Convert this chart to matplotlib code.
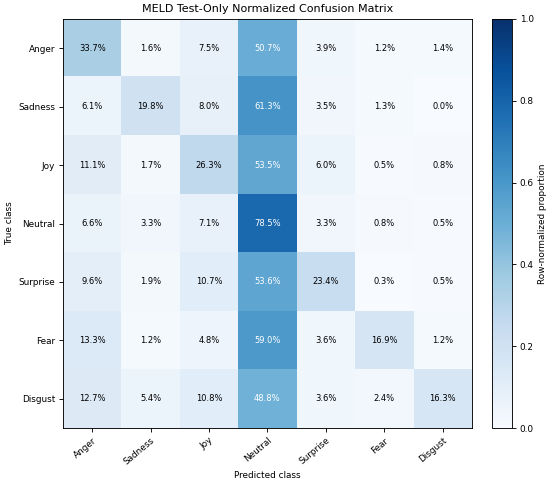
import numpy as np
import matplotlib.pyplot as plt

classes = ["Anger", "Sadness", "Joy", "Neutral", "Surprise", "Fear", "Disgust"]

# row-normalized values in percent, rows = true class
anger = [33.7, 1.6, 7.5, 50.7, 3.9, 1.2, 1.4]
sadness = [6.1, 19.8, 8.0, 61.3, 3.5, 1.3, 0.0]
joy = [11.1, 1.7, 26.3, 53.5, 6.0, 0.5, 0.8]
neutral = [6.6, 3.3, 7.1, 78.5, 3.3, 0.8, 0.5]
surprise = [9.6, 1.9, 10.7, 53.6, 23.4, 0.3, 0.5]
fear = [13.3, 1.2, 4.8, 59.0, 3.6, 16.9, 1.2]
disgust = [12.7, 5.4, 10.8, 48.8, 3.6, 2.4, 16.3]

cm = np.array([anger, sadness, joy, neutral, surprise, fear, disgust]) / 100.0

fig = plt.figure(figsize=(6.875, 6.0125), dpi=80)
ax = fig.add_axes([0.1145, 0.110, 0.7435, 0.8505])
cax = fig.add_axes([0.8945, 0.110, 0.0364, 0.8505])

im = ax.imshow(cm, cmap="Blues", vmin=0, vmax=1, aspect="auto")
cbar = fig.colorbar(im, cax=cax)
cbar.set_label("Row-normalized proportion", fontsize=8)
cbar.ax.tick_params(labelsize=8)

ax.set_xticks(range(len(classes)))
ax.set_yticks(range(len(classes)))
ax.set_xticklabels(classes, rotation=40, ha="right", rotation_mode="anchor", fontsize=8)
ax.set_yticklabels(classes, fontsize=8)
ax.set_xlabel("Predicted class", fontsize=8)
ax.set_ylabel("True class", fontsize=8)
ax.set_title("MELD Test-Only Normalized Confusion Matrix", fontsize=10)

thresh = cm.max() / 2
for i in range(cm.shape[0]):
    for j in range(cm.shape[1]):
        ax.text(j, i, f"{cm[i, j]*100:.1f}%", ha="center", va="center",
                fontsize=7.5, color="white" if cm[i, j] > thresh else "black")

fig.savefig("out.png", dpi=80)
